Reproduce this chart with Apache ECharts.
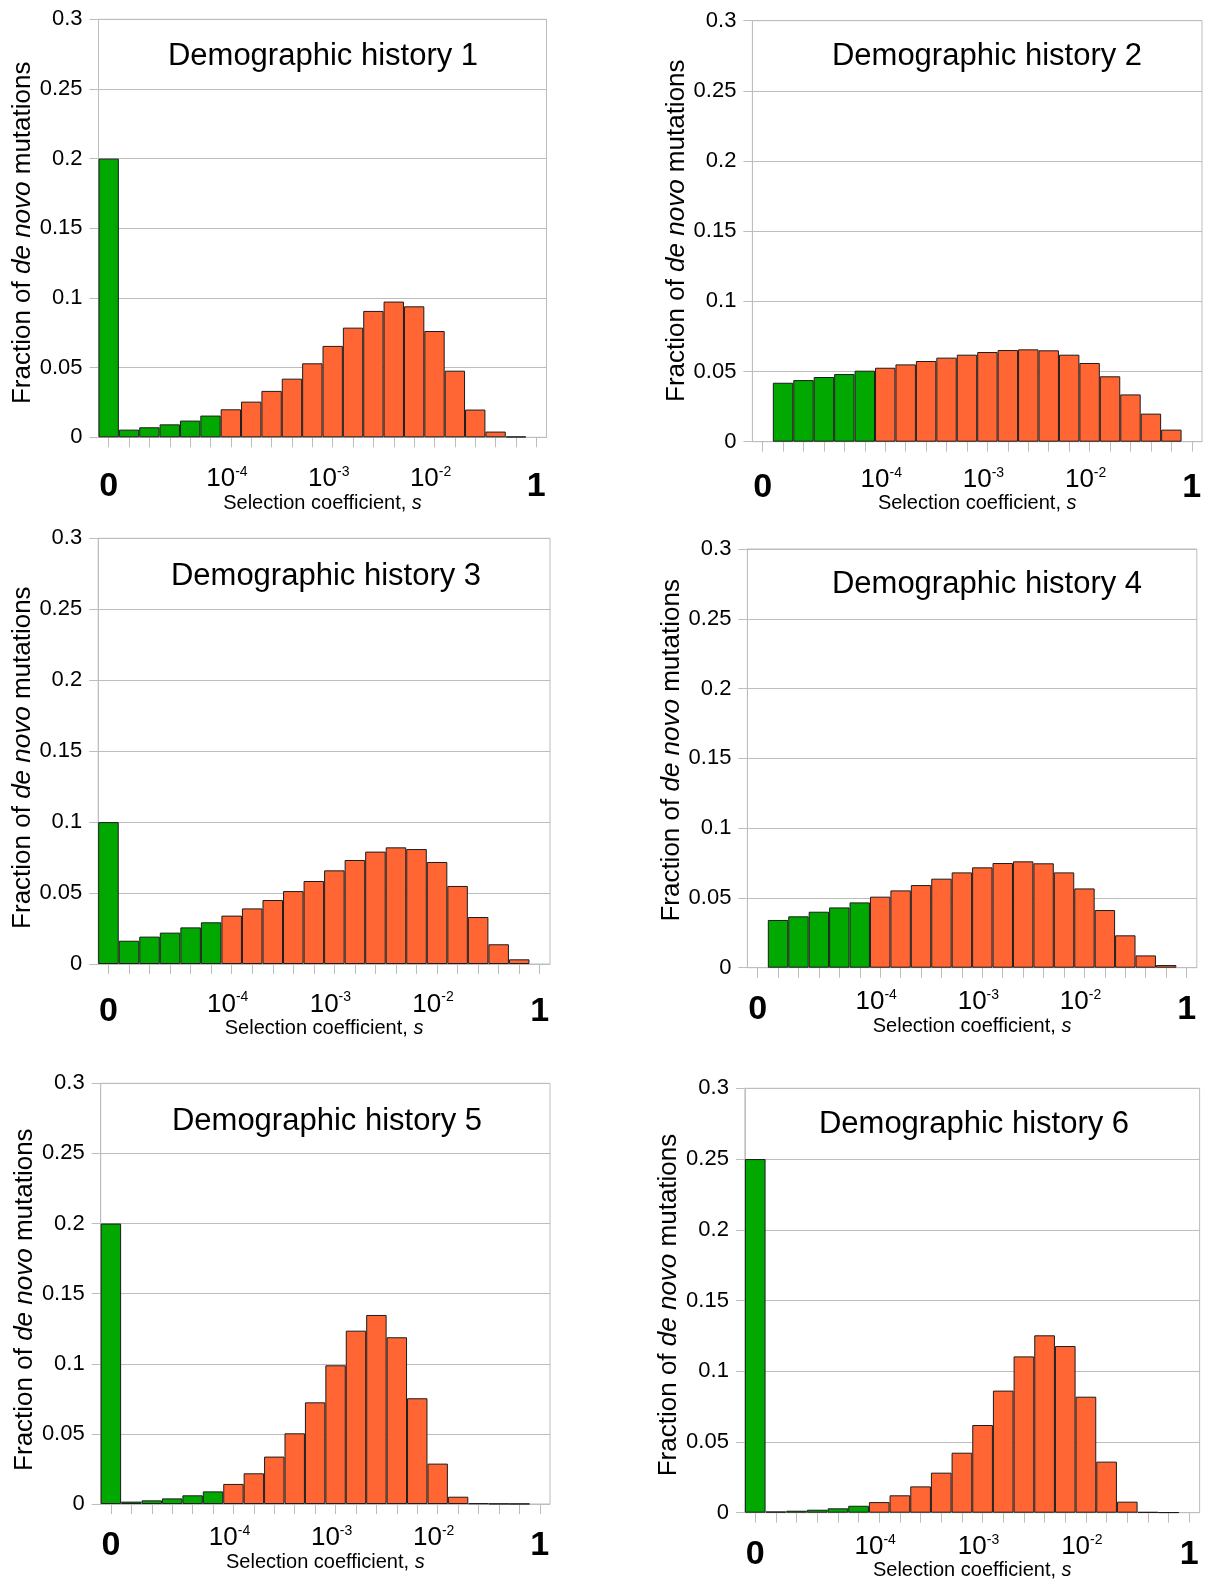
<!DOCTYPE html>
<html>
<head>
<meta charset="utf-8">
<script src="https://cdn.jsdelivr.net/npm/echarts@6/dist/echarts.min.js"></script>
<style>
html,body{margin:0;padding:0;background:#ffffff;}
#chart{width:1205px;height:1581px;}
</style>
</head>
<body>
<div id="chart"></div>
<script>
// ---------------- DATA ----------------
// Bins of the selection coefficient s: s = 0, then 5 log-bins per decade from 1e-5 to 1e-1, then the "1" end slot
const categories = ['0','1e-5','1.6e-5','2.5e-5','4e-5','6.3e-5','1e-4','1.6e-4','2.5e-4','4e-4','6.3e-4',
  '1e-3','1.6e-3','2.5e-3','4e-3','6.3e-3','1e-2','1.6e-2','2.5e-2','4e-2','6.3e-2','1'];
const neutralBinCount = 6; // bins with s < 1e-4 (green)

const titles = ['Demographic history 1','Demographic history 2','Demographic history 3',
  'Demographic history 4','Demographic history 5','Demographic history 6'];

const history1 = [0.2, 0.0055, 0.0072, 0.0093, 0.012, 0.0156, 0.0201, 0.0256, 0.0333, 0.0421, 0.0531,
  0.0656, 0.0787, 0.0907, 0.0974, 0.094, 0.0763, 0.0478, 0.0199, 0.0041, 0.0005, null];
const history2 = [null, 0.042, 0.0439, 0.0461, 0.0482, 0.0506, 0.0527, 0.0551, 0.0575, 0.0599, 0.062,
  0.0639, 0.0653, 0.0658, 0.0651, 0.062, 0.0561, 0.0466, 0.0337, 0.02, 0.0086, null];
const history3 = [0.1, 0.0164, 0.0193, 0.0221, 0.0258, 0.0294, 0.0341, 0.0392, 0.0451, 0.0514, 0.0585,
  0.066, 0.0733, 0.0792, 0.0822, 0.081, 0.0719, 0.055, 0.0331, 0.0139, 0.0033, null];
const history4 = [null, 0.0342, 0.0368, 0.0401, 0.0432, 0.0468, 0.0509, 0.0554, 0.0592, 0.0638, 0.0683,
  0.0719, 0.075, 0.0762, 0.0748, 0.0683, 0.0568, 0.0413, 0.0232, 0.0088, 0.0019, null];
const history5 = [0.2, 0.0017, 0.0026, 0.004, 0.0062, 0.009, 0.0143, 0.0219, 0.0338, 0.0504, 0.0725,
  0.0989, 0.1236, 0.1348, 0.1189, 0.0754, 0.0288, 0.0052, 0.0005, 0.0002, 0.0001, null];
const history6 = [0.25, 0.0009, 0.0014, 0.0021, 0.0031, 0.0049, 0.0075, 0.0123, 0.0186, 0.0283, 0.0424,
  0.062, 0.0863, 0.1105, 0.1254, 0.1178, 0.082, 0.0361, 0.0078, 0.0005, 0.0002, null];
const histories = [history1, history2, history3, history4, history5, history6];

// x tick labels (positions on the bin scale 0..22: centre of "0" bin, decade boundaries, centre of "1" slot)
const xTickValues = [0.5, 6, 11, 16, 21.5];
const xTickBase = ['0', '10', '10', '10', '1'];
const xTickExp = ['', '-4', '-3', '-2', ''];

// y axis
const yMin = 0, yMax = 0.3, yStep = 0.05;

// ---------------- LAYOUT / STYLE ----------------
const FONT = '"Liberation Sans", Arial, Helvetica, sans-serif';
const GRAY = '#bdbdbd';
const GREEN = '#00a800';
const ORANGE = '#ff6633';
const panels = [
  {left: 98.5, top: 19.3, width: 448, height: 418, titleX: 323, titleCapTop: 45, shift: 0, yNameShift: 4.5},
  {left: 752.4, top: 20.7, width: 449.6, height: 421, titleX: 987, titleCapTop: 45, shift: -4, yNameShift: -0.5},
  {left: 98.2, top: 538.3, width: 451.8, height: 425.7, titleX: 326, titleCapTop: 565, shift: -1.5, yNameShift: 6.5},
  {left: 747.4, top: 549, width: 449.4, height: 418.7, titleX: 987, titleCapTop: 573.3, shift: -7.7, yNameShift: -8},
  {left: 100.7, top: 1083.3, width: 449.3, height: 420.7, titleX: 327, titleCapTop: 1110, shift: -8, yNameShift: 6},
  {left: 744.9, top: 1088.3, width: 454.7, height: 424.4, titleX: 974, titleCapTop: 1113, shift: -8, yNameShift: 4.5}
];

const grids = [], xAxes = [], yAxes = [], series = [], graphics = [];

panels.forEach(function (p, i) {
  grids.push({
    left: p.left, top: p.top, width: p.width, height: p.height,
    containLabel: false, outerBoundsMode: 'none',
    show: true, borderColor: GRAY, borderWidth: 1, backgroundColor: 'transparent'
  });
  // category axis carrying the bars and ticks
  xAxes.push({
    type: 'category', gridIndex: i, data: categories, position: 'bottom', boundaryGap: true,
    axisLine: {show: true, lineStyle: {color: GRAY, width: 1}},
    axisTick: {show: true, alignWithLabel: true, interval: 0, length: 10, inside: false, lineStyle: {color: GRAY, width: 1}},
    axisLabel: {show: false, interval: 0},
    splitLine: {show: false},
    name: 'Selection coefficient, {i|s}',
    nameLocation: 'middle',
    nameGap: 56 + p.shift,
    nameTextStyle: {
      fontFamily: FONT, fontSize: 20, lineHeight: 20, color: '#000',
      rich: {i: {fontFamily: FONT, fontSize: 20, lineHeight: 20, fontStyle: 'italic', color: '#000'}}
    }
  });
  // value axis (same bin scale) carrying the s tick labels
  xAxes.push({
    type: 'value', gridIndex: i, position: 'bottom', offset: 0,
    min: 0, max: categories.length, interval: 0.5,
    axisLine: {show: false}, axisTick: {show: false}, splitLine: {show: false},
    axisLabel: {
      show: true, margin: 28 + p.shift, color: '#000', fontFamily: FONT,
      showMinLabel: true, showMaxLabel: true,
      formatter: function (v) {
        for (let k = 0; k < xTickValues.length; k++) {
          if (Math.abs(v - xTickValues[k]) < 1e-6) {
            if (xTickExp[k]) return '{pad| }{base|' + xTickBase[k] + '}{sup|' + xTickExp[k] + '}';
            return '{big|' + xTickBase[k] + '}';
          }
        }
        return '';
      },
      rich: {
        pad: {width: 12.5, fontSize: 8, lineHeight: 8, fontFamily: FONT},
        base: {fontSize: 26, lineHeight: 28, fontFamily: FONT, color: '#000'},
        sup: {fontSize: 14, lineHeight: 19, verticalAlign: 'top', fontFamily: FONT, color: '#000'},
        big: {fontSize: 34, lineHeight: 43, fontWeight: 'bold', fontFamily: FONT, color: '#000'}
      }
    }
  });
  const s = p.yNameShift; // >0 moves the rotated name down, <0 up
  yAxes.push({
    type: 'value', gridIndex: i, min: yMin, max: yMax, interval: yStep,
    axisLine: {show: true, lineStyle: {color: GRAY, width: 1}},
    axisTick: {show: true, length: 9, inside: false, lineStyle: {color: GRAY, width: 1}},
    axisLabel: {show: true, fontSize: 22, fontFamily: FONT, color: '#000', margin: 16},
    splitLine: {show: true, lineStyle: {color: GRAY, width: 1}},
    name: 'Fraction of {i|de novo} mutations',
    nameLocation: 'middle',
    nameGap: 61,
    nameTextStyle: {
      fontFamily: FONT, fontSize: 26, lineHeight: 26, color: '#000',
      padding: s >= 0 ? [0, 2 * s, 0, 0] : [0, 0, 0, -2 * s],
      rich: {i: {fontFamily: FONT, fontSize: 26, lineHeight: 26, fontStyle: 'italic', color: '#000'}}
    }
  });
  series.push({
    type: 'bar',
    xAxisIndex: 2 * i, yAxisIndex: i,
    data: histories[i],
    barCategoryGap: '0%',
    itemStyle: {
      color: function (params) { return params.dataIndex < neutralBinCount ? GREEN : ORANGE; },
      borderColor: '#1c1c1c', borderWidth: 1
    },
    emphasis: {disabled: true},
    animation: false
  });
  graphics.push({
    type: 'text',
    x: p.titleX, y: p.titleCapTop - 4,
    style: {
      text: titles[i], fill: '#000', font: '31px ' + FONT,
      textAlign: 'center', textVerticalAlign: 'top', align: 'center', verticalAlign: 'top'
    }
  });
});

const chart = echarts.init(document.getElementById('chart'), null, {renderer: 'canvas'});
chart.setOption({
  backgroundColor: '#ffffff',
  animation: false,
  textStyle: {fontFamily: FONT},
  grid: grids,
  xAxis: xAxes,
  yAxis: yAxes,
  series: series,
  graphic: graphics,
  tooltip: {show: false}
});
</script>
</body>
</html>
